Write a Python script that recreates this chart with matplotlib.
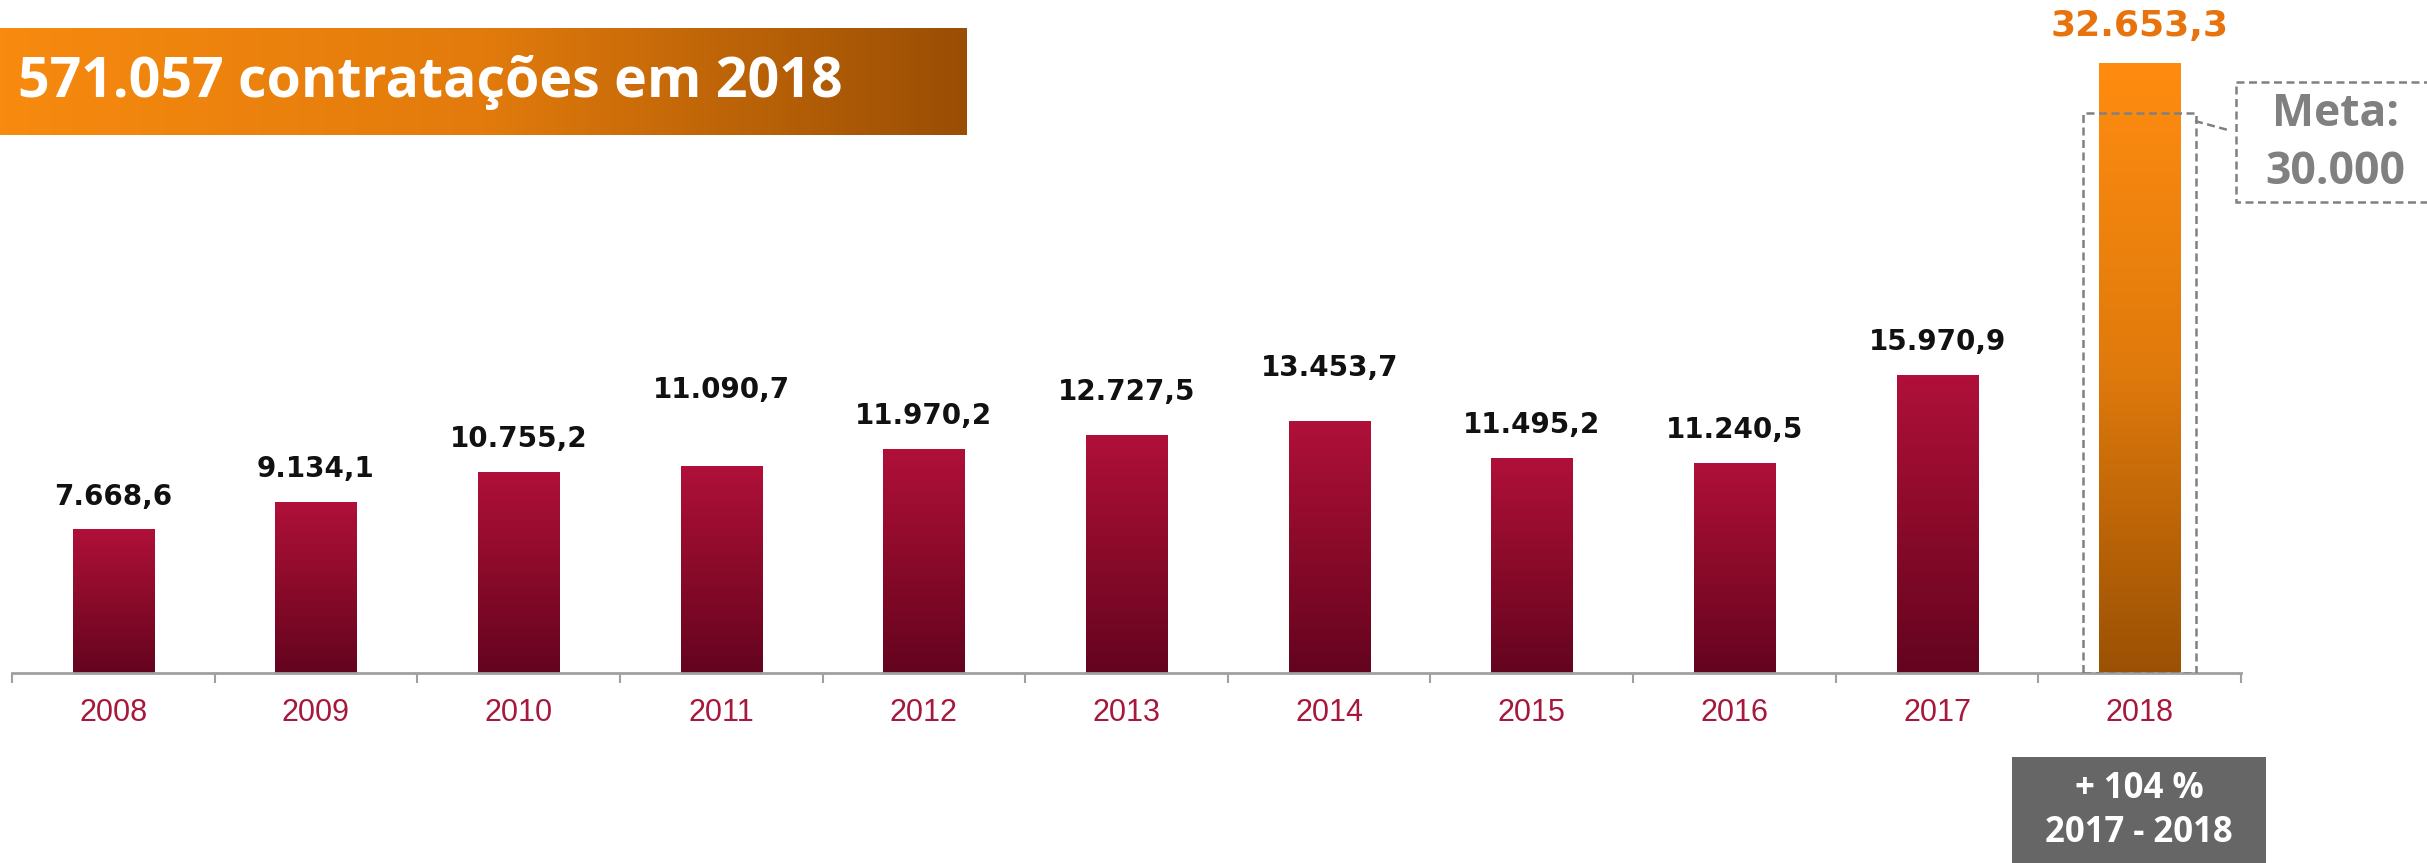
import numpy as np
import matplotlib
matplotlib.use("Agg")
import matplotlib.pyplot as plt
from matplotlib.colors import LinearSegmentedColormap
from matplotlib.patches import Rectangle
from matplotlib.lines import Line2D

# ---------------- data ----------------
years = ['2008', '2009', '2010', '2011', '2012', '2013', '2014', '2015', '2016', '2017', '2018']
values = [7668.6, 9134.1, 10755.2, 11090.7, 11970.2, 12727.5, 13453.7, 11495.2, 11240.5, 15970.9, 32653.3]
value_labels = ['7.668,6', '9.134,1', '10.755,2', '11.090,7', '11.970,2', '12.727,5',
                '13.453,7', '11.495,2', '11.240,5', '15.970,9', '32.653,3']
meta_value = 30000
title_text = '571.057 contratações em 2018'
meta_lines = ['Meta:', '30.000']
growth_lines = ['+ 104 %', '2017 - 2018']

# ---------------- layout ----------------
W, H = 2427, 863
fig = plt.figure(figsize=(W / 100, H / 100), dpi=100)
fig.patch.set_facecolor('white')

base_px = 673
ax = fig.add_axes([12 / W, (H - base_px) / H, (2241 - 12) / W, base_px / H])
ymax = base_px * 53.6
bar_w = 0.40

red_cmap = LinearSegmentedColormap.from_list('red', ['#64041F', '#8A0A2A', '#B01039'])
orange_cmap = LinearSegmentedColormap.from_list('orng', ['#9B5104', '#E07A0C', '#FF8C10'])
grad = np.linspace(0, 1, 256).reshape(-1, 1)

for i, v in enumerate(values):
    cm = orange_cmap if i == len(values) - 1 else red_cmap
    ax.imshow(grad, extent=(i - bar_w / 2, i + bar_w / 2, 0, v), origin='lower',
              aspect='auto', cmap=cm, zorder=2, interpolation='bicubic')

ax.set_xlim(-0.5, len(years) - 0.5)
ax.set_ylim(0, ymax)

for s in ['top', 'right', 'left']:
    ax.spines[s].set_visible(False)
ax.spines['bottom'].set_color('#A0A0A0')
ax.spines['bottom'].set_linewidth(2)
ax.set_yticks([])
ax.set_xticks(np.arange(len(years) + 1) - 0.5)
ax.set_xticklabels([])
ax.tick_params(axis='x', which='major', direction='out', length=7.5, width=1.5, color='#A0A0A0')
ax.set_xticks(np.arange(len(years)), minor=True)
ax.set_xticklabels(years, minor=True)
ax.tick_params(axis='x', which='minor', length=0, pad=18, labelsize=22, labelcolor='#A6183C')
for t in ax.get_xticklabels(minor=True):
    t.set_fontfamily('Liberation Sans')

# value labels (extra nudges in points to follow the manual placement of the original)
nudge = {3: 31, 5: 7, 6: 15}
for i, (v, lbl) in enumerate(zip(values, value_labels)):
    last = i == len(values) - 1
    ax.annotate(lbl, (i, v), xytext=(0, (27 if last else 24) + nudge.get(i, 0)),
                textcoords='offset points', ha='center', va='center',
                fontsize=26 if last else 20, fontweight='bold',
                color='#E8720C' if last else '#111111', family='DejaVu Sans', zorder=5)

dash = (0, (3.2, 1.8))
# dashed target box around the 2018 bar
hw = 0.278
ax.add_patch(Rectangle((len(values) - 1 - hw, 0), 2 * hw, meta_value, fill=False,
                       ls=dash, lw=1.8, ec='#808080', zorder=4))

# ---------------- overlay (pixel coords) ----------------
ov = fig.add_axes([0, 0, 1, 1], facecolor='none')
ov.axis('off')

# title banner
banner_cmap = LinearSegmentedColormap.from_list('ban', ['#F78A0F', '#E27B0C', '#9A4E04'])
ov.imshow(np.linspace(0, 1, 256).reshape(1, -1), extent=(0, 967, 135, 28), aspect='auto',
          cmap=banner_cmap, interpolation='bicubic', zorder=1)
ov.text(18, 83, title_text, color='white', fontsize=40, fontweight='bold',
        family='Open Sans', va='center', ha='left', zorder=2)
ov.set_xlim(0, W)
ov.set_ylim(H, 0)

# meta box
ov.add_patch(Rectangle((2236, 82), 230, 120, fill=False, ls=dash, lw=1.8,
                       ec='#808080', zorder=3))
ov.add_line(Line2D([2195, 2228], [121, 130], ls=dash, lw=1.8, color='#808080'))
ov.text(2335, 114, meta_lines[0], color='#808080', fontsize=32, fontweight='bold',
        family='Open Sans', ha='center', va='center')
ov.text(2335, 172, meta_lines[1], color='#808080', fontsize=32, fontweight='bold',
        family='Open Sans', ha='center', va='center')

# growth box
ov.add_patch(Rectangle((2012, 757), 254, 120, fc='#666666', ec='none', zorder=3))
ov.text(2139, 789, growth_lines[0], color='white', fontsize=25, fontweight='bold',
        family='Open Sans', ha='center', va='center', zorder=4)
ov.text(2139, 833, growth_lines[1], color='white', fontsize=25, fontweight='bold',
        family='Open Sans', ha='center', va='center', zorder=4)

fig.savefig('out.png', dpi=100)
